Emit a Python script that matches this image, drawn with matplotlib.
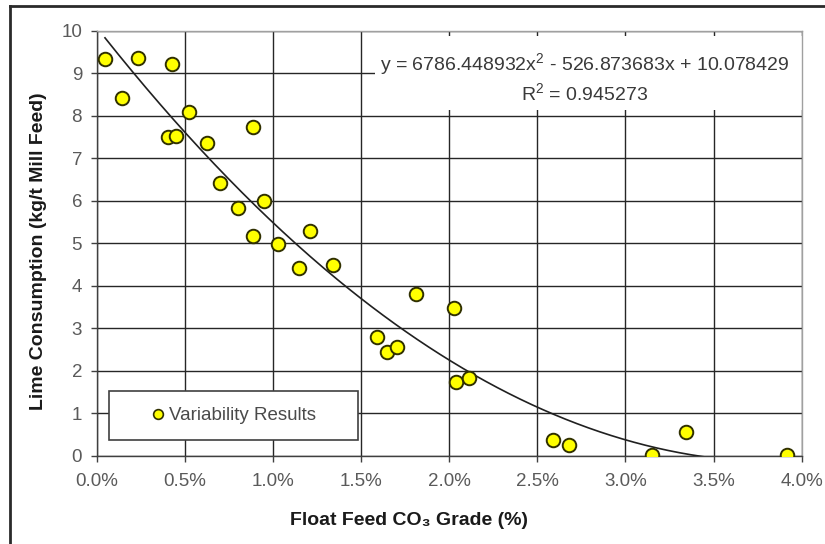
import numpy as np
import matplotlib
matplotlib.use("Agg")
import matplotlib.pyplot as plt
from matplotlib.patches import Rectangle
from matplotlib.lines import Line2D
from matplotlib.ticker import FuncFormatter

plt.rcParams['font.family'] = ['Liberation Sans', 'DejaVu Sans']
plt.rcParams['mathtext.fontset'] = 'custom'
plt.rcParams['mathtext.rm'] = 'Liberation Sans'
plt.rcParams['mathtext.default'] = 'rm'

# ---- data ----
co3_pct = [0.047, 0.142, 0.236, 0.406, 0.430, 0.448, 0.524, 0.628, 0.698, 0.800,
           0.889, 0.889, 0.949, 1.030, 1.148, 1.210, 1.343, 1.589, 1.649, 1.706,
           1.810, 2.029, 2.039, 2.114, 2.587, 2.678, 3.149, 3.344, 3.915]
lime = [9.34, 8.42, 9.35, 7.51, 9.21, 7.53, 8.09, 7.37, 6.42, 5.83,
        7.73, 5.17, 6.00, 4.98, 4.43, 5.28, 4.48, 2.80, 2.44, 2.57,
        3.82, 3.47, 1.75, 1.83, 0.38, 0.25, 0.02, 0.57, 0.02]
trend_coef = [6786.448932, -526.873683, 10.078429]
r_squared = 0.945273
series_name = "Variability Results"
x_ticks = [0.0, 0.005, 0.010, 0.015, 0.020, 0.025, 0.030, 0.035, 0.040]
y_ticks = [0, 1, 2, 3, 4, 5, 6, 7, 8, 9, 10]

x_frac = np.array(co3_pct) / 100.0

W, H = 825, 544
fig = plt.figure(figsize=(W / 100, H / 100), dpi=100)
ax = fig.add_axes([96.7 / W, (H - 456) / H, 705 / W, 425.3 / H])

# outer chart border (left and top visible)
fig.add_artist(Line2D([10 / W, 10 / W], [0, 1 - 6 / H], transform=fig.transFigure,
                      color='#2a2a2a', lw=2))
fig.add_artist(Line2D([10 / W, 1], [1 - 6 / H, 1 - 6 / H], transform=fig.transFigure,
                      color='#2a2a2a', lw=2))

ax.set_xlim(x_ticks[0], x_ticks[-1])
ax.set_ylim(y_ticks[0], y_ticks[-1])
ax.set_xticks(x_ticks)
ax.set_yticks(y_ticks)
ax.xaxis.set_major_formatter(FuncFormatter(lambda v, p: f"{v*100:.1f}%"))
ax.grid(True, color='#262626', lw=1.0)
ax.set_axisbelow(True)

for s in ['top', 'right']:
    ax.spines[s].set_color('#a0a0a0')
    ax.spines[s].set_linewidth(1.0)
for s in ['left', 'bottom']:
    ax.spines[s].set_color('#404040')
    ax.spines[s].set_linewidth(1.0)

ax.tick_params(axis='x', length=4, width=1, color='#404040', pad=8,
               labelsize=13.5, labelcolor='#5a5a5a')
ax.tick_params(axis='y', length=4.5, width=1, color='#404040', pad=6,
               labelsize=13.5, labelcolor='#5a5a5a')

# trendline
xt = np.linspace(x_frac.min(), x_frac.max(), 300)
yt = np.polyval(trend_coef, xt)
ax.plot(xt, yt, color='#202020', lw=1.2, zorder=3)

# data points
ax.scatter(x_frac, lime, s=95, c='#ffff00', edgecolors='#303000', linewidths=1.4, zorder=4)

# equation label box
ax.add_patch(Rectangle(((375 - 96.7) / 705, (456 - 110) / 425.3), 1 - (375 - 96.7) / 705,
                       (110 - 36) / 425.3, transform=ax.transAxes, facecolor='white',
                       edgecolor='none', zorder=2.5))
line1 = (f"y = {trend_coef[0]:.6f}x$^{{2}}$ - {abs(trend_coef[1]):.6f}x + "
         f"{trend_coef[2]:.6f}")
line2 = f"R$^{{2}}$ = {r_squared:.6f}"
ax.text((585 - 96.7) / 705, (456 - 64) / 425.3, line1, transform=ax.transAxes,
        ha='center', va='center', fontsize=14, color='#3a3a3a', zorder=5)
ax.text((585 - 96.7) / 705, (456 - 93) / 425.3, line2, transform=ax.transAxes,
        ha='center', va='center', fontsize=14, color='#3a3a3a', zorder=5)

# legend box
ax.add_patch(Rectangle(((108.7 - 96.7) / 705, (456 - 440) / 425.3), (357.7 - 108.7) / 705,
                       (440 - 391) / 425.3, transform=ax.transAxes, facecolor='white',
                       edgecolor='#404040', lw=1.2, zorder=5))
handle = Line2D([], [], marker='o', ls='none', ms=7, mfc='#ffff00', mec='#303000', mew=1.2)
leg = ax.legend([handle], [series_name], loc='center',
                bbox_to_anchor=((233 - 96.7) / 705, (456 - 415.5) / 425.3),
                frameon=False, fontsize=13.5, handletextpad=0.2, handlelength=0.8,
                borderaxespad=0)
for t in leg.get_texts():
    t.set_color('#4a4a4a')
leg.set_zorder(6)

ax.set_xlabel("Float Feed CO₃ Grade (%)", fontsize=14, fontweight='bold',
              color='#1a1a1a')
ax.set_ylabel("Lime Consumption (kg/t Mill Feed)", fontsize=14, fontweight='bold',
              color='#1a1a1a')
ax.xaxis.set_label_coords((409 - 96.7) / 705, -(512 - 456) / 425.3)
ax.yaxis.set_label_coords(-(97 - 47) / 705, (456 - 251) / 425.3)

fig.savefig("out.png", dpi=100)
